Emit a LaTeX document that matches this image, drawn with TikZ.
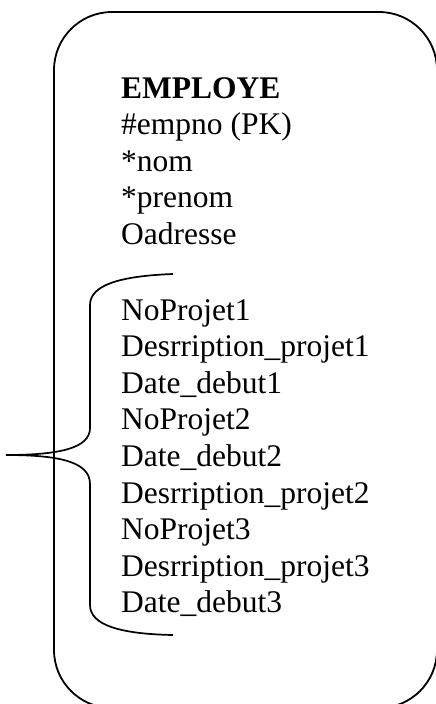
\documentclass[tikz,border=0pt]{standalone}
\usepackage{fontspec}
\setmainfont{Liberation Serif}
\begin{document}
\begin{tikzpicture}[x=1pt,y=-1pt,
  line/.style={line width=1.8pt,black},
  txt/.style={anchor=base west,inner sep=0pt,font=\fontsize{31.5}{36.5}\selectfont}]
\useasboundingbox (0,0) rectangle (436,704);
\clip (0,0) rectangle (436,704);
% rounded box
\draw[line,rounded corners=58pt] (54,12) rectangle (437,708);
% header
\node[txt,font=\fontsize{31.5}{36.5}\selectfont\bfseries] (t0) at (121,98) {EMPLOYE};
\node[txt] (t1) at (121,134.5) {\#empno (PK)};
\node[txt] (t2) at (121,171) {*nom};
\node[txt] (t3) at (121,207.5) {*prenom};
\node[txt] (t4) at (121,244) {Oadresse};
% project lines
\node[txt] (p1) at (121,320) {NoProjet1};
\node[txt] (p2) at (121,356.6) {Desrription\_projet1};
\node[txt] (p3) at (121,393.2) {Date\_debut1};
\node[txt] (p4) at (121,429.8) {NoProjet2};
\node[txt] (p5) at (121,466.4) {Date\_debut2};
\node[txt] (p6) at (121,503) {Desrription\_projet2};
\node[txt] (p7) at (121,539.6) {NoProjet3};
\node[txt] (p8) at (121,576.2) {Desrription\_projet3};
\node[txt] (p9) at (121,612.8) {Date\_debut3};
% brace
\coordinate (btop) at (173,274);
\coordinate (btip) at (6,455);
\coordinate (bbot) at (173,635);
\draw[line,line width=1.7pt] (btop) .. controls (120,276) and (90,285) .. (90,305)
  -- (90,428) .. controls (90,448) and (60,455) .. (btip);
\draw[line,line width=1.7pt] (btip) .. controls (60,455) and (90,462) .. (90,484)
  -- (90,605) .. controls (90,625) and (120,634) .. (bbot);
\end{tikzpicture}
\end{document}
